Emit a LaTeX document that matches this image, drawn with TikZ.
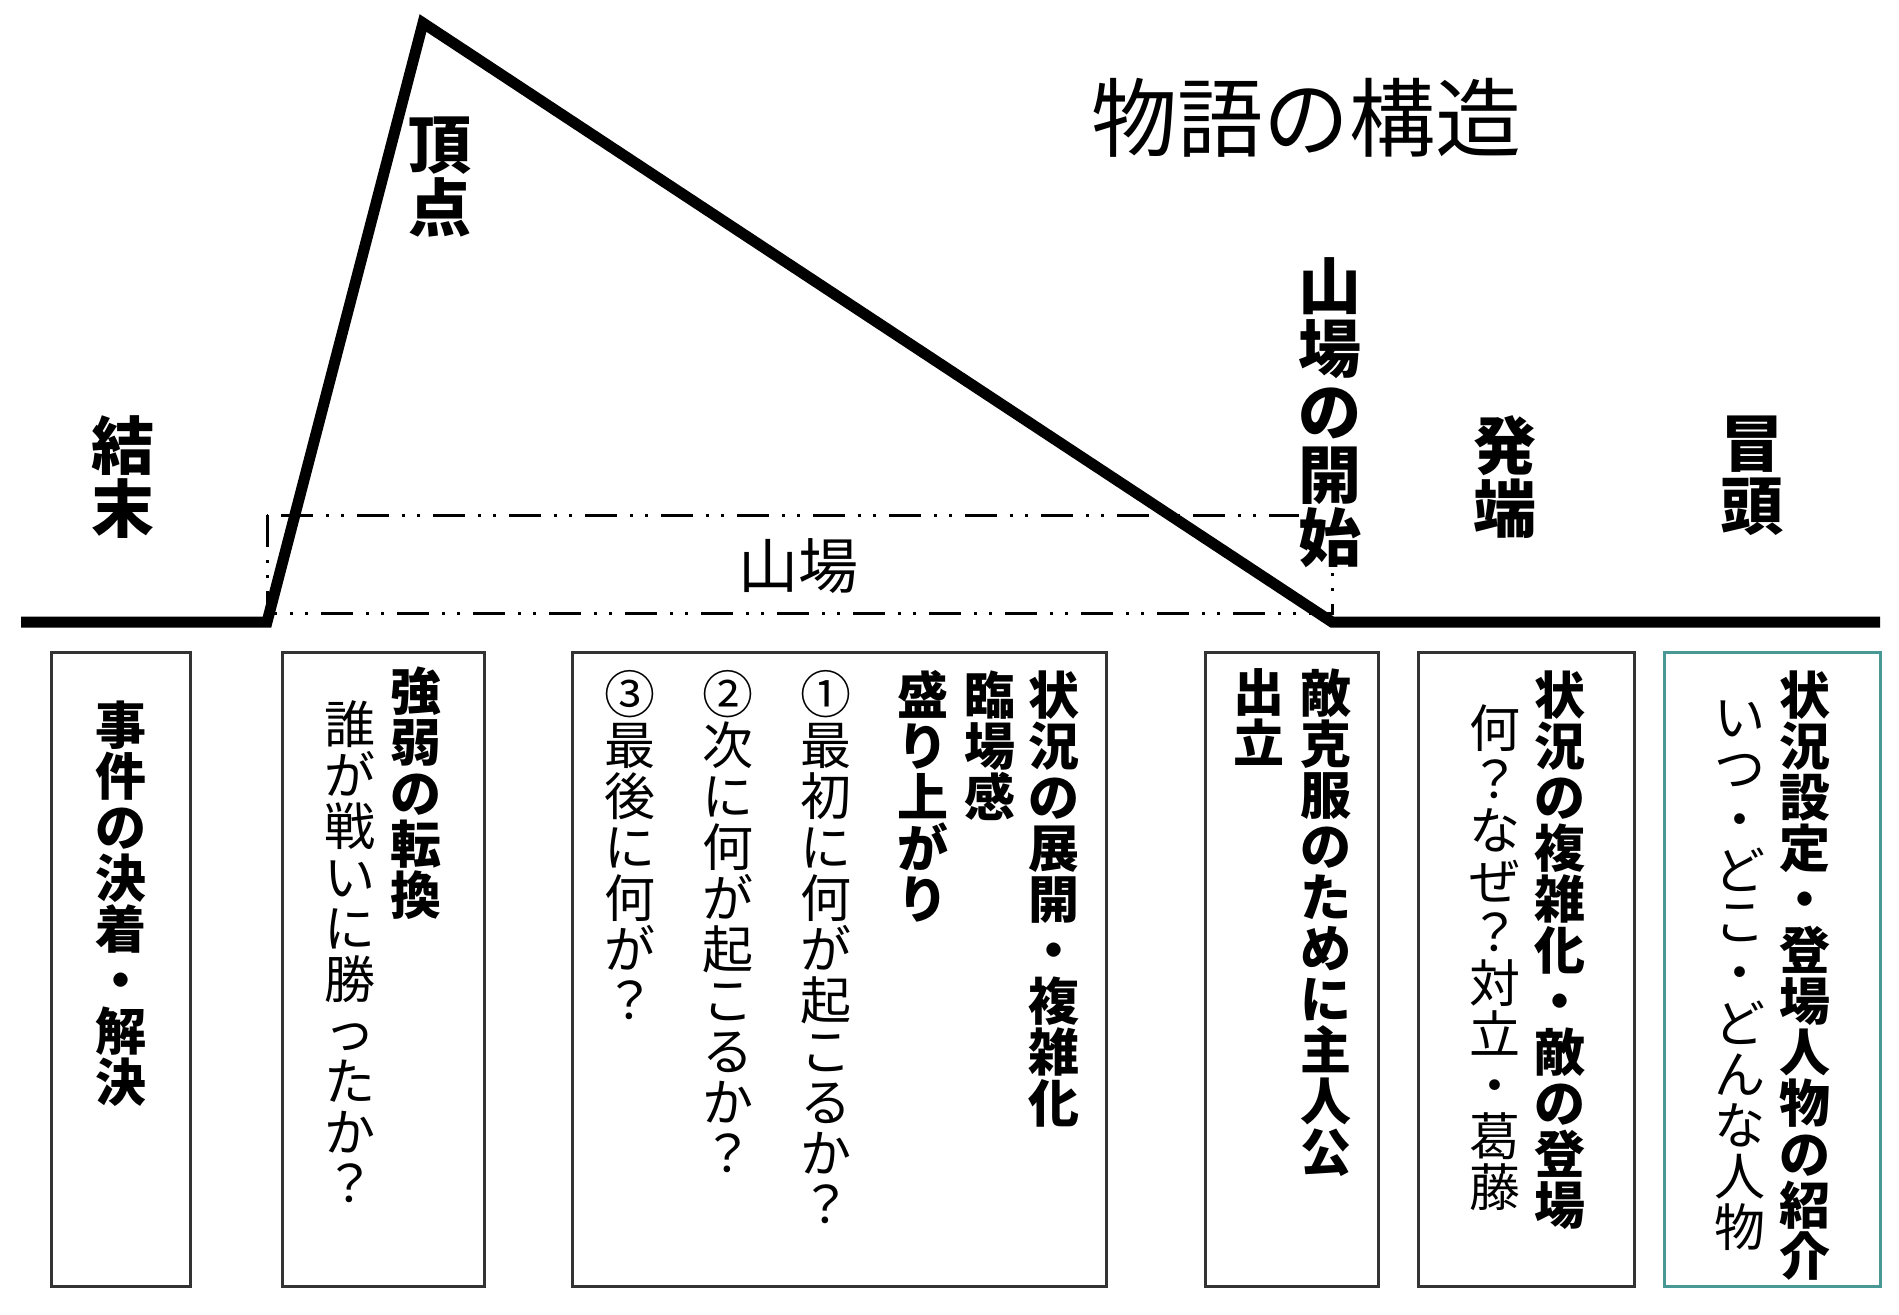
\documentclass[tikz,border=0pt]{standalone}
\usepackage{fontspec}
\setmainfont{Noto Sans CJK JP}
\definecolor{boxgray}{RGB}{51,51,51}
\definecolor{boxteal}{RGB}{72,152,150}
\let\tateend\relax
\def\tateloop#1{\ifx#1\tateend\else\hbox to 1em{\hss#1\hss}\expandafter\tateloop\fi}
\newcommand\tate[1]{\vbox{\baselineskip=1em\lineskiplimit=-\maxdimen\tateloop#1\tateend}}
\tikzset{
  story/.style={line width=5.5pt},
  climax/.style={line width=1.5pt, dash pattern=on 16pt off 6.5pt on 1.5pt off 6pt on 1.5pt off 6.5pt},
  panel/.style={draw=boxgray, line width=1.5pt},
  stage/.style={inner sep=0pt, anchor=north, font=\fontsize{31.5}{31.5}\selectfont\bfseries},
  colhead/.style={inner sep=0pt, anchor=north, font=\fontsize{25.5}{25.5}\selectfont\bfseries},
  colnote/.style={inner sep=0pt, anchor=north, font=\fontsize{25.5}{25.5}\selectfont},
}

\begin{document}
\begin{tikzpicture}[x=0.5pt,y=0.5pt,yscale=-1,xscale=1]
\useasboundingbox (0,0) rectangle (1899,1314);

%Plot points
\coordinate (start) at (21,622);
\coordinate (climaxL) at (267,622);
\coordinate (apex) at (423,23);
\coordinate (climaxR) at (1332,622);
\coordinate (finish) at (1880,622);

%Climax frame
\draw [climax] (267,515) rectangle (1332,613);
%Story line
\draw [story] (start) -- (climaxL) -- (apex) -- (climaxR) -- (finish);

% Text Node
\node [font=\fontsize{43}{43}\selectfont, inner sep=0pt] (title) at (1306,118) {物語の構造};
% Text Node
\node [font=\fontsize{30}{30}\selectfont, inner sep=0pt] (yamaba) at (798,566) {山場};
% Text Node
\node [stage] (apexlbl) at (440,116) {\tate{頂点}};
\node [stage] (ending) at (123,415) {\tate{結末}};
\node [stage, fill=white] (climaxstart) at (1330,257) {\tate{山場の開始}};
\node [stage] (trigger) at (1505,415) {\tate{発端}};
\node [stage] (opening) at (1752,415) {\tate{冒頭}};

%Boxes
\draw [panel] (51,652) rectangle (190,1286);
\draw [panel] (282,652) rectangle (484,1286);
\draw [panel] (572,652) rectangle (1106,1286);
\draw [panel] (1205,652) rectangle (1378,1286);
\draw [panel] (1418,652) rectangle (1634,1286);
\draw [panel, draw=boxteal] (1664,652) rectangle (1880,1286);

% Text Node
\node [colhead] (settle) at (121,700) {\tate{事件の決着・解決}};
% Text Node
\node [colhead] (turn) at (416,666) {\tate{強弱の転換}};
\node [colnote] (winner) at (350,700) {\tate{誰が戦いに勝ったか？}};
% Text Node
\node [colhead] (unfold) at (1054,670) {\tate{状況の展開・複雑化}};
\node [colhead] (presence) at (990,670) {\tate{臨場感}};
\node [colhead] (rise) at (923,670) {\tate{盛り上がり}};
\node [colnote] (firstq) at (826,670) {\tate{①最初に何が起こるか？}};
\node [colnote] (nextq) at (728,670) {\tate{②次に何が起こるか？}};
\node [colnote] (lastq) at (630,670) {\tate{③最後に何が？}};
% Text Node
\node [colhead] (hero) at (1326,668) {\tate{敵克服のために主人公}};
\node [colhead] (depart) at (1259,668) {\tate{出立}};
% Text Node
\node [colhead] (tangle) at (1560,670) {\tate{状況の複雑化・敵の登場}};
\node [colnote] (conflict) at (1495,704) {\tate{何？なぜ？対立・葛藤}};
% Text Node
\node [colhead] (setting) at (1805,670) {\tate{状況設定・登場人物の紹介}};
\node [colnote] (whowhere) at (1740,700) {\tate{いつ・どこ・どんな人物}};

\end{tikzpicture}
\end{document}
